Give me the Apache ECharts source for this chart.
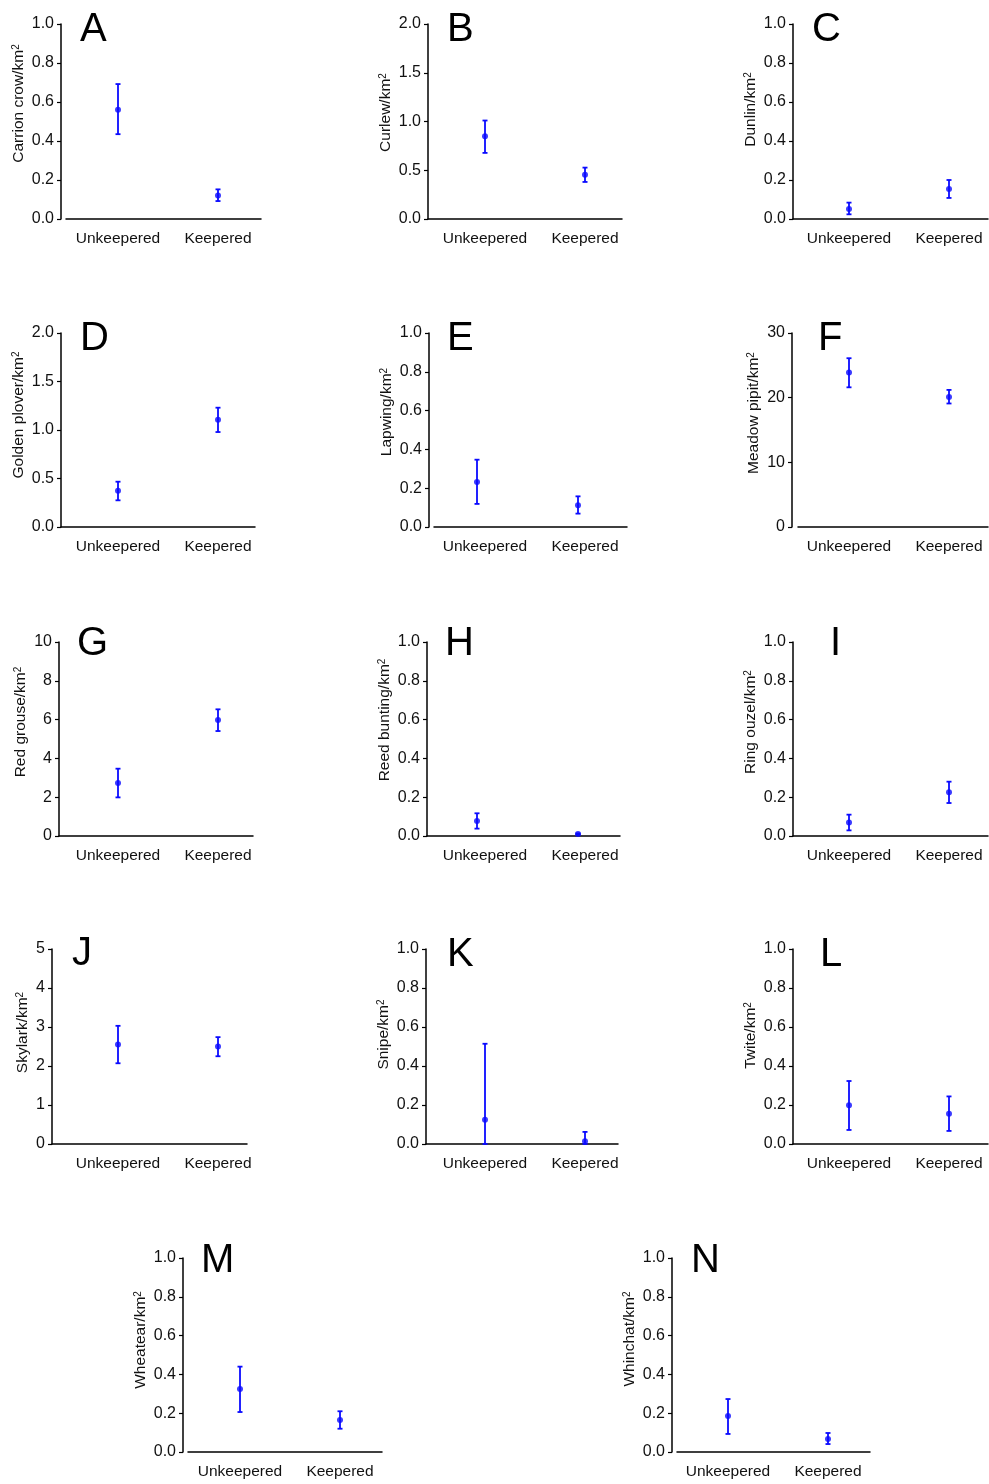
<!DOCTYPE html>
<html>
<head>
<meta charset="utf-8">
<script src="https://cdn.jsdelivr.net/npm/echarts@6/dist/echarts.min.js"></script>
<style>
  html, body { margin: 0; padding: 0; background: #fff; }
  #birds { width: 989px; height: 1484px; }
</style>
</head>
<body>
<div id="birds"></div>
<script>
// categories on every x axis
var categories = ['Unkeepered', 'Keepered'];
// panel letters and species (y axis names)
var panelLetters = ['A', 'B', 'C', 'D', 'E', 'F', 'G', 'H', 'I', 'J', 'K', 'L', 'M', 'N'];
var speciesNames = ['Carrion crow', 'Curlew', 'Dunlin', 'Golden plover', 'Lapwing', 'Meadow pipit',
    'Red grouse', 'Reed bunting', 'Ring ouzel', 'Skylark', 'Snipe', 'Twite', 'Wheatear', 'Whinchat'];
// y axis range and tick step per panel
var yMaxValues = [1, 2, 1, 2, 1, 30, 10, 1, 1, 5, 1, 1, 1, 1];
var yTickSteps = [0.2, 0.5, 0.2, 0.5, 0.2, 10, 2, 0.2, 0.2, 1, 0.2, 0.2, 0.2, 0.2];
// density per km2: [unkeepered, keepered]
var meanValues = [
    [0.56, 0.12], [0.85, 0.455], [0.051, 0.154], [0.375, 1.105], [0.232, 0.112], [23.9, 20.1],
    [2.73, 5.98], [0.077, 0.01], [0.07, 0.225], [2.55, 2.5], [0.125, 0.014], [0.199, 0.155],
    [0.325, 0.165], [0.186, 0.067]
];
var lowerValues = [
    [0.435, 0.092], [0.678, 0.38], [0.024, 0.108], [0.275, 0.979], [0.119, 0.069], [21.6, 19.1],
    [1.99, 5.41], [0.038, 0.007], [0.029, 0.17], [2.07, 2.25], [0.0, 0.0], [0.072, 0.067],
    [0.206, 0.12], [0.093, 0.041]
];
var upperValues = [
    [0.692, 0.152], [1.01, 0.527], [0.084, 0.2], [0.467, 1.23], [0.347, 0.158], [26.1, 21.2],
    [3.47, 6.53], [0.117, 0.013], [0.11, 0.28], [3.03, 2.74], [0.514, 0.062], [0.323, 0.244],
    [0.44, 0.21], [0.273, 0.098]
];

// layout: [yAxisX, xAxisStart, xAxisEnd, top, bottom, unkeeperedX, keeperedX,
//          nameShift, letterX, letterY, labelX0, labelX1]
var panelBoxes = [
    [61, 66, 261, 24, 219, 118, 218, 18, 80, 10, 118, 218],
    [428, 428, 622, 24, 219, 485, 585, 9, 447, 10, 485, 585],
    [793, 793, 988, 24, 219, 849, 949, 12, 812, 10, 849, 949],
    [61, 61, 255, 333, 527, 118, 218, 15, 80, 319, 118, 218],
    [429, 434, 627, 333, 527, 477, 578, 18, 447, 319, 485, 585],
    [792, 798, 988, 333, 527, 849, 949, 17, 818, 319, 849, 949],
    [59, 59, 253, 642, 836, 118, 218, 17, 77, 624, 118, 218],
    [427, 427, 620, 642, 836, 477, 578, 19, 445, 624, 485, 585],
    [793, 793, 988, 642, 836, 849, 949, 17, 830, 624, 849, 949],
    [52, 52, 247, 949, 1144, 118, 218, 14, 72, 934, 118, 218],
    [426, 426, 618, 949, 1144, 485, 585, 12, 447, 935, 485, 585],
    [793, 793, 988, 949, 1144, 849, 949, 11, 820, 935, 849, 949],
    [183, 188, 382, 1258, 1452, 240, 340, 15, 201, 1241, 240, 340],
    [672, 677, 870, 1258, 1452, 728, 828, 16, 691, 1241, 728, 828]
];

var FONT = '"Liberation Sans", Arial, sans-serif';
var BLUE = '#0a0aff';
var TICK_FONT = 16;

var measureCtx = document.createElement('canvas').getContext('2d');
measureCtx.font = TICK_FONT + 'px ' + FONT;

function tickText(v, step) {
    return step < 1 ? v.toFixed(1) : String(v);
}

function renderErrorBar(params, api) {
    var x = api.value(0);
    var lo = api.coord([x, api.value(1)]);
    var hi = api.coord([x, api.value(2)]);
    var cap = 2.5;
    var style = { stroke: BLUE, lineWidth: 1.8 };
    return {
        type: 'group',
        children: [
            { type: 'line', shape: { x1: lo[0], y1: lo[1], x2: hi[0], y2: hi[1] }, style: style },
            { type: 'line', shape: { x1: lo[0] - cap, y1: lo[1], x2: lo[0] + cap, y2: lo[1] }, style: style },
            { type: 'line', shape: { x1: hi[0] - cap, y1: hi[1], x2: hi[0] + cap, y2: hi[1] }, style: style }
        ]
    };
}

var grids = [], xAxes = [], yAxes = [], series = [], titles = [];

panelBoxes.forEach(function (b, i) {
    var span = b[6] - b[5];
    var labelVals = [(b[10] - b[5]) / span, (b[11] - b[5]) / span];
    var step = yTickSteps[i];
    // widest tick label decides how far the axis name sits
    var widest = 0;
    for (var v = 0; v <= yMaxValues[i] + 1e-9; v += step) {
        widest = Math.max(widest, measureCtx.measureText(tickText(v, step)).width);
    }
    grids.push({ left: b[1], top: b[3], width: b[2] - b[1], height: b[4] - b[3] });
    xAxes.push({
        type: 'value', gridIndex: i,
        min: (b[1] - b[5]) / span, max: (b[2] - b[5]) / span,
        axisLine: { show: true, lineStyle: { color: '#000', width: 1.5 } },
        axisTick: { show: false },
        splitLine: { show: false },
        axisLabel: {
            customValues: labelVals, margin: 12, fontSize: 15.5, color: '#111', fontFamily: FONT,
            formatter: function (val) {
                return Math.abs(val - labelVals[0]) < Math.abs(val - labelVals[1]) ? categories[0] : categories[1];
            }
        }
    });
    yAxes.push({
        type: 'value', gridIndex: i, min: 0, max: yMaxValues[i], interval: step,
        offset: b[1] - b[0],
        axisLine: { show: true, onZero: false, lineStyle: { color: '#000', width: 1.5 } },
        axisTick: { show: true, length: 4, lineStyle: { color: '#000', width: 1.2 } },
        splitLine: { show: false },
        axisLabel: {
            margin: 7, fontSize: TICK_FONT, color: '#111', fontFamily: FONT,
            formatter: function (val) { return tickText(val, step); }
        },
        name: '{t|' + speciesNames[i] + '/km}{s|2}',
        nameLocation: 'middle', nameRotate: 90,
        nameGap: Math.round(12 + widest),
        nameMoveOverlap: false,
        nameTextStyle: {
            color: '#111', fontFamily: FONT, fontSize: 15.5,
            padding: [0, 0, 0, 2 * b[7]],
            rich: {
                t: { fontSize: 15.5, fontFamily: FONT, color: '#111' },
                s: { fontSize: 10, fontFamily: FONT, color: '#111', verticalAlign: 'top' }
            }
        }
    });
    series.push({
        type: 'custom', xAxisIndex: i, yAxisIndex: i, renderItem: renderErrorBar,
        clip: false, silent: true,
        data: [[0, lowerValues[i][0], upperValues[i][0]], [1, lowerValues[i][1], upperValues[i][1]]]
    });
    series.push({
        type: 'scatter', xAxisIndex: i, yAxisIndex: i, symbol: 'circle', symbolSize: 6,
        itemStyle: { color: BLUE }, silent: true,
        data: [[0, meanValues[i][0]], [1, meanValues[i][1]]]
    });
    titles.push({
        text: panelLetters[i], left: b[8], top: b[9], padding: 0,
        textStyle: { fontSize: 40, fontWeight: 'normal', color: '#000', fontFamily: FONT }
    });
});

var chart = echarts.init(document.getElementById('birds'), null, { renderer: 'canvas' });
chart.setOption({
    animation: false,
    backgroundColor: '#fff',
    title: titles,
    grid: grids,
    xAxis: xAxes,
    yAxis: yAxes,
    series: series
});
</script>
</body>
</html>
